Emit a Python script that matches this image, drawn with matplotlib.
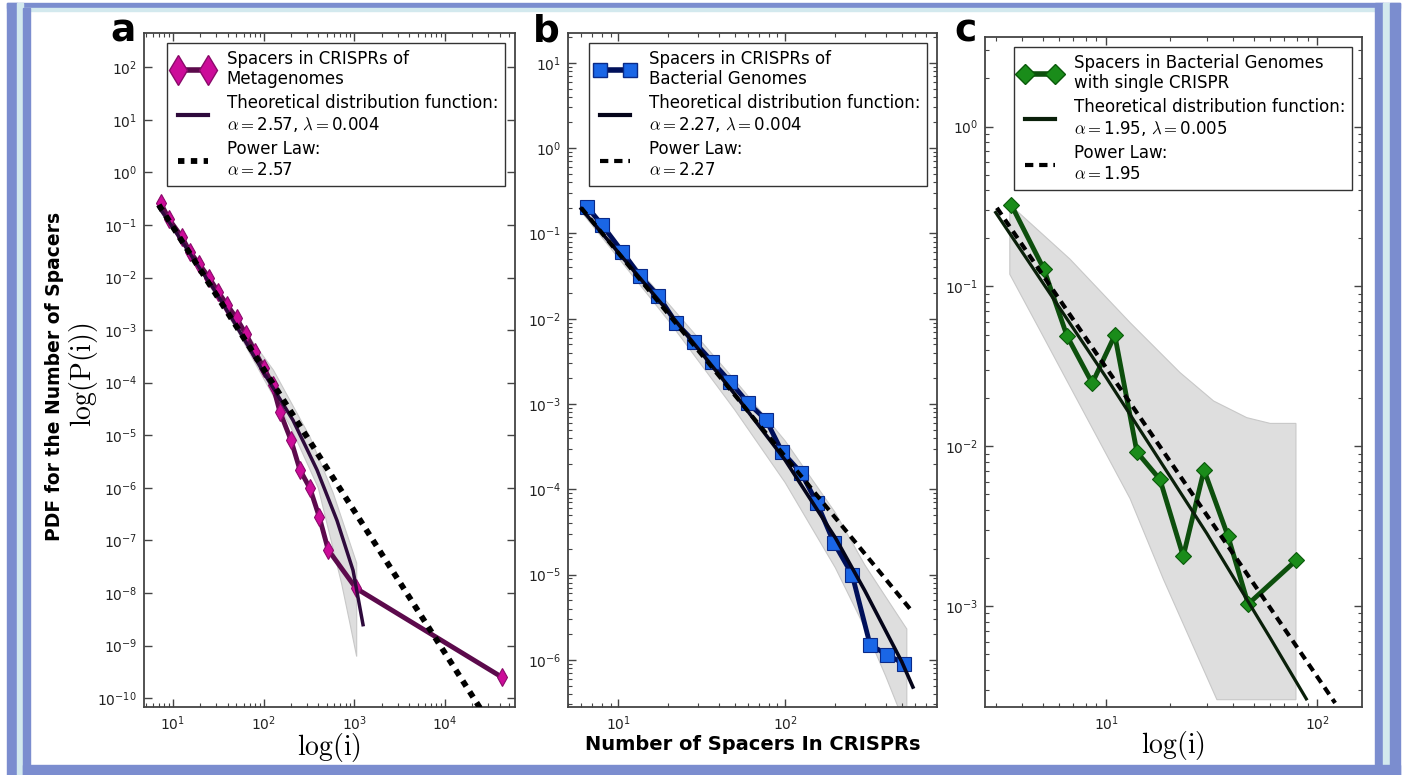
import numpy as np
import matplotlib
matplotlib.use("Agg")
import matplotlib.pyplot as plt
from matplotlib.patches import Rectangle
from matplotlib.lines import Line2D
from matplotlib.ticker import LogLocator, NullLocator

plt.rcParams["mathtext.fontset"] = "cm"
plt.rcParams["axes.unicode_minus"] = False
plt.rcParams["font.family"] = "DejaVu Sans"

# ---- panel a: spacers in CRISPRs of metagenomes
a_x = [7.3, 9.1, 12.5, 15.4, 19.5, 24.9, 31.6, 39.7, 50.3, 63.8, 80.2, 101, 126,
       151, 200, 251, 324, 410, 515, 1042, 42400]
a_y = [0.263, 0.127, 0.0594, 0.0308, 0.018, 0.010, 5.3e-3, 3.0e-3, 1.67e-3, 8.4e-4,
       3.9e-4, 1.87e-4, 9.0e-5, 2.8e-5, 8.1e-6, 2.2e-6, 9.8e-7, 2.8e-7, 6.6e-8,
       1.23e-8, 2.5e-10]
a_theo_x = [7, 10, 20, 30, 50, 100, 210, 387, 643, 966, 1245]
a_theo_y = [0.22, 0.088, 0.0145, 5.1e-3, 1.2e-3, 1.55e-4, 1.95e-5, 2.2e-6, 2.4e-7,
            2.7e-8, 2.5e-9]
a_pow_x = [7, 25000]
a_pow_y = [0.24, 6e-11]
a_up_x = [7, 20, 50, 128, 324, 585, 1060]
a_up_y = [0.25, 0.016, 1.6e-3, 1.74e-4, 9.3e-6, 7.9e-7, 3.7e-8]
a_lo_x = [7, 20, 50, 100, 200, 400, 724, 893, 1060]
a_lo_y = [0.2, 0.0135, 1.05e-3, 1.2e-4, 1.4e-5, 1.0e-6, 1.5e-8, 2.65e-9, 6.2e-10]

# ---- panel b: spacers in CRISPRs of bacterial genomes
b_x = [6.5, 8.0, 10.6, 13.5, 17.4, 22.2, 28.5, 36.6, 46.9, 60.0, 76.9, 95.9, 124.7,
       155, 196, 252, 323, 408, 516]
b_y = [0.205, 0.126, 0.0608, 0.0318, 0.0185, 8.95e-3, 5.36e-3, 3.13e-3, 1.82e-3,
       1.03e-3, 6.5e-4, 2.75e-4, 1.56e-4, 6.95e-5, 2.36e-5, 1.0e-5, 1.5e-6, 1.15e-6,
       9.0e-7]
b_theo_x = [6, 10, 20, 50, 100, 200, 300, 400, 500, 583]
b_theo_y = [0.195, 0.060, 0.012, 1.3e-3, 2.2e-4, 2.7e-5, 6.5e-6, 2.2e-6, 9.5e-7, 4.8e-7]
b_pow_x = [6, 583]
b_pow_y = [0.2, 3.6e-6]
b_up_x = [6, 10, 20, 50, 100, 200, 300, 400, 536]
b_up_y = [0.21, 0.07, 0.015, 1.9e-3, 3.7e-4, 5.3e-5, 1.3e-5, 5.5e-6, 2.3e-6]
b_lo_x = [6, 10, 20, 50, 100, 200, 300, 400, 475, 536]
b_lo_y = [0.18, 0.052, 9.5e-3, 8.5e-4, 1.2e-4, 1.2e-5, 2.4e-6, 6.5e-7, 2.8e-7, 1.0e-7]

# ---- panel c: bacterial genomes with a single CRISPR
c_x = [3.55, 5.08, 6.53, 8.6, 11.0, 14.0, 18.0, 23.2, 29.1, 37.8, 47.1, 79.3]
c_y = [0.325, 0.128, 0.049, 0.0248, 0.0495, 9.2e-3, 6.2e-3, 2.05e-3, 7.1e-3,
       2.74e-3, 1.03e-3, 1.93e-3]
c_theo_x = [3.0, 10, 30, 60, 88.8]
c_theo_y = [0.29, 0.027, 2.85e-3, 6.3e-4, 2.63e-4]
c_pow_x = [3.04, 121.6]
c_pow_y = [0.31, 2.48e-4]
c_up_x = [3.5, 6.75, 13.0, 22.4, 32.3, 46.4, 59.9, 79.3]
c_up_y = [0.325, 0.148, 0.0593, 0.0289, 0.0192, 0.0151, 0.0139, 0.0139]
c_lo_x = [3.5, 4.83, 6.73, 13.0, 18.7, 33.5, 79.3]
c_lo_y = [0.119, 0.054, 0.0238, 4.7e-3, 1.47e-3, 2.6e-4, 2.6e-4]

W, H = 1403, 775
fig = plt.figure(figsize=(W / 100, H / 100), dpi=100)


def px_rect(x0, y0, x1, y1, color):
    fig.patches.append(Rectangle((x0 / W, 1 - y1 / H), (x1 - x0) / W, (y1 - y0) / H,
                                 transform=fig.transFigure, color=color, zorder=-5))


# slide-style frame around the figure
blue, pale = "#7b8dcf", "#d3e9ee"
px_rect(7, 3, 1400, 8, blue)
px_rect(7, 8, 1400, 11, pale)
px_rect(7, 3, 17, 775, blue)
px_rect(17, 3, 23, 775, pale)
px_rect(23, 8, 30, 775, blue)
px_rect(1375, 3, 1383, 775, blue)
px_rect(1383, 3, 1390, 775, pale)
px_rect(1390, 3, 1400, 775, blue)
px_rect(23, 765, 1400, 775, blue)


def add_axes(x0, y0, x1, y1):
    return fig.add_axes([x0 / W, 1 - y1 / H, (x1 - x0) / W, (y1 - y0) / H])


def style(ax, ymin_minor=True):
    ax.set_xscale("log")
    ax.set_yscale("log")
    ax.xaxis.set_major_locator(LogLocator(base=10, numticks=20))
    ax.yaxis.set_major_locator(LogLocator(base=10, numticks=20))
    if not ymin_minor:
        ax.yaxis.set_minor_locator(NullLocator())
    ax.tick_params(which="both", direction="in", top=True, right=True,
                   colors="#444444", labelcolor="#222222", labelsize=10)
    ax.tick_params(which="major", length=6, width=1, pad=5)
    ax.tick_params(which="minor", length=3, width=0.8)
    for s in ax.spines.values():
        s.set_color("#444444")
        s.set_linewidth(1.3)


def band(ax, ux, uy, lx, ly):
    ax.fill(np.concatenate([ux, lx[::-1]]), np.concatenate([uy, ly[::-1]]),
            color="#dedede", edgecolor="#c8c8c8", lw=0.8, zorder=1)


def xlabel(ax, text, ypx, **kw):
    ax.set_xlabel(text, **kw)
    ax.xaxis.label.set_va("center")
    ax.xaxis.set_label_coords(0.5, -(ypx - 707) / 674)


leg_kw = dict(loc="upper right", numpoints=2, fontsize=12, handlelength=2.4,
              handletextpad=0.8, fancybox=False, edgecolor="#333333",
              framealpha=1, labelspacing=0.35, borderpad=0.4, borderaxespad=0.6)

# ---------------- panel a
ax = add_axes(144, 33, 515, 707)
style(ax, ymin_minor=False)
band(ax, a_up_x, a_up_y, a_lo_x, a_lo_y)
ax.plot(a_x, a_y, color="#5c0a4c", lw=3.5, marker="d", ms=9, mfc="#cc0c99",
        mec="#8a0a6a", mew=0.8, zorder=3)
ax.plot(a_theo_x, a_theo_y, color="#2e0a3c", lw=2.5, zorder=4)
ax.plot(a_pow_x, a_pow_y, color="black", lw=4.2, ls=(0, (1.1, 1.1)), zorder=5)
ax.set_xlim(4.8, 58900)
ax.set_ylim(6.8e-11, 447)
h = [Line2D([], [], color="#5c0a4c", lw=4, marker="d", ms=15, mfc="#cc0c99",
            mec="#8a0a6a"),
     Line2D([], [], color="#2e0a3c", lw=3),
     Line2D([], [], color="black", lw=4.2, ls=(0, (1.1, 1.1)))]
ax.legend(h, ["Spacers in CRISPRs of\nMetagenomes",
              "Theoretical distribution function:\n$\\alpha=$2.57, $\\lambda=$0.004",
              "Power Law:\n$\\alpha=$2.57"], **leg_kw)
xlabel(ax, r"$\mathrm{log(i)}$", 748, fontsize=20)

# ---------------- panel b
ax = add_axes(568, 33, 937, 707)
style(ax)
band(ax, b_up_x, b_up_y, b_lo_x, b_lo_y)
ax.plot(b_x, b_y, color="#00105a", lw=3.5, marker="s", ms=9.5, mfc="#1a66e6",
        mec="#0a2a88", mew=0.8, zorder=3)
ax.plot(b_theo_x, b_theo_y, color="#05051a", lw=2.6, zorder=4)
ax.plot(b_pow_x, b_pow_y, color="black", lw=3, ls=(0, (2, 1.4)), zorder=5)
ax.set_xlim(5.0, 813)
ax.set_ylim(2.8e-7, 22.4)
h = [Line2D([], [], color="#00105a", lw=4, marker="s", ms=10, mfc="#1a66e6",
            mec="#0a2a88"),
     Line2D([], [], color="#05051a", lw=3),
     Line2D([], [], color="black", lw=3, ls=(0, (2, 1.4)))]
ax.legend(h, ["Spacers in CRISPRs of\nBacterial Genomes",
              "Theoretical distribution function:\n$\\alpha=$2.27, $\\lambda=$0.004",
              "Power Law:\n$\\alpha=$2.27"], **leg_kw)
xlabel(ax, "Number of Spacers In CRISPRs", 744, fontsize=14, fontweight="bold")

# ---------------- panel c
ax = add_axes(985, 37, 1362, 707)
style(ax)
band(ax, c_up_x, c_up_y, c_lo_x, c_lo_y)
ax.plot(c_x, c_y, color="#0d4f0d", lw=3.5, marker="D", ms=8, mfc="#1a8c1a",
        mec="#0a5a0a", mew=0.8, zorder=3)
ax.plot(c_theo_x, c_theo_y, color="#0a200a", lw=2.3, zorder=4)
ax.plot(c_pow_x, c_pow_y, color="black", lw=3, ls=(0, (2, 1.4)), zorder=5)
ax.set_xlim(2.67, 163)
ax.set_ylim(2.34e-4, 3.63)
h = [Line2D([], [], color="#0d4f0d", lw=4, marker="D", ms=10, mfc="#1a8c1a",
            mec="#0a5a0a"),
     Line2D([], [], color="#0a200a", lw=3),
     Line2D([], [], color="black", lw=3, ls=(0, (2, 1.4)))]
ax.legend(h, ["Spacers in Bacterial Genomes\nwith single CRISPR",
              "Theoretical distribution function:\n$\\alpha=$1.95, $\\lambda=$0.005",
              "Power Law:\n$\\alpha=$1.95"], **leg_kw)
xlabel(ax, r"$\mathrm{log(i)}$", 746, fontsize=20)

# figure-level labels
fig.text(55 / W, 1 - 376 / H, "PDF for the Number of Spacers", rotation=90,
         fontsize=13.5, fontweight="bold", ha="center", va="center")
fig.text(84 / W, 1 - 375 / H, r"$\mathrm{log(P(i))}$", rotation=90,
         fontsize=20, ha="center", va="center")
for letter, xp in [("a", 123), ("b", 546), ("c", 966)]:
    fig.text(xp / W, 1 - 42 / H, letter, fontsize=27, fontweight="bold",
             ha="center", va="baseline")

fig.savefig("out.png", dpi=100)
